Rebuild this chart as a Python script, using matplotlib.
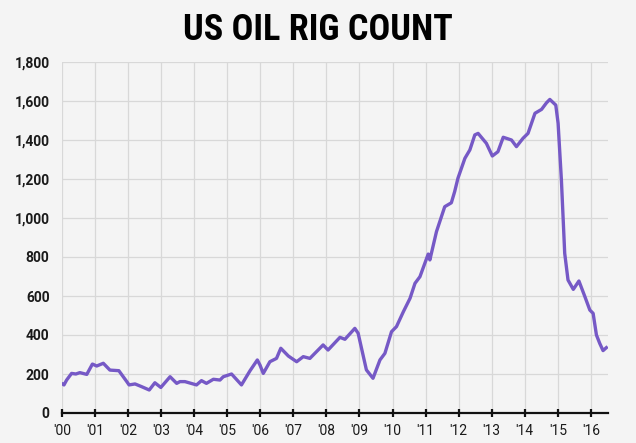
import matplotlib.pyplot as plt
from matplotlib.ticker import FuncFormatter

# US oil rig count (decimal year, rigs)
years = [2000.00, 2000.06, 2000.14, 2000.29, 2000.42, 2000.54, 2000.75, 2000.92,
         2001.05, 2001.25, 2001.45, 2001.72, 2001.96, 2002.03, 2002.21, 2002.41,
         2002.64, 2002.81, 2002.99, 2003.27, 2003.47, 2003.57, 2003.72, 2004.07,
         2004.22, 2004.37, 2004.58, 2004.78, 2004.88, 2005.13, 2005.43, 2005.69,
         2005.91, 2005.99, 2006.09, 2006.29, 2006.49, 2006.62, 2006.85, 2007.10,
         2007.30, 2007.50, 2007.90, 2008.05, 2008.41, 2008.56, 2008.86, 2008.96,
         2009.21, 2009.41, 2009.62, 2009.77, 2009.97, 2010.12, 2010.33, 2010.53,
         2010.68, 2010.83, 2011.08, 2011.13, 2011.33, 2011.58, 2011.78, 2011.88,
         2011.98, 2012.19, 2012.34, 2012.49, 2012.59, 2012.84, 2013.02, 2013.19,
         2013.35, 2013.60, 2013.75, 2013.95, 2014.10, 2014.31, 2014.51, 2014.66,
         2014.76, 2014.94, 2015.01, 2015.11, 2015.21, 2015.31, 2015.47, 2015.64,
         2015.82, 2015.97, 2016.07, 2016.17, 2016.27, 2016.37, 2016.47]
rigs = [150, 144, 169, 203, 200, 207, 198, 251,
        241, 255, 220, 217, 161, 144, 149, 135,
        118, 155, 131, 186, 152, 161, 161, 144,
        166, 152, 173, 169, 186, 200, 144, 217,
        272, 246, 203, 263, 280, 332, 292, 263,
        289, 280, 349, 323, 388, 378, 434, 409,
        221, 178, 272, 306, 417, 443, 520, 588,
        665, 699, 815, 785, 930, 1058, 1078, 1135,
        1204, 1306, 1349, 1426, 1434, 1383, 1318, 1340,
        1414, 1400, 1366, 1409, 1434, 1537, 1557, 1591,
        1608, 1579, 1486, 1195, 819, 682, 634, 677,
        597, 528, 511, 400, 357, 320, 335]

year_ticks = list(range(2000, 2017))
year_labels = ["'%02d" % (y - 2000) for y in year_ticks]
y_ticks = list(range(0, 1801, 200))

bg = '#f4f4f4'
purple = '#7659c6'

fig = plt.figure(figsize=(6.36, 4.43), dpi=100, facecolor=bg)
ax = fig.add_axes([62 / 636, 1 - 413 / 443, 546 / 636, 351 / 443], facecolor=bg)

ax.plot(years, rigs, color=purple, linewidth=2.4, solid_joinstyle='round', zorder=3)

ax.set_xlim(2000, 2016.52)
ax.set_ylim(0, 1800)
ax.set_xticks(year_ticks)
ax.set_xticklabels(year_labels)
ax.set_yticks(y_ticks)
ax.yaxis.set_major_formatter(FuncFormatter(lambda v, p: f"{int(v):,}"))

ax.grid(True, color='#d8d8d8', linewidth=0.9, zorder=0)
for side in ['top', 'right', 'left']:
    ax.spines[side].set_visible(False)
ax.spines['bottom'].set_color('#111111')
ax.spines['bottom'].set_linewidth(1.6)
ax.spines['bottom'].set_zorder(4)

ax.tick_params(axis='x', direction='inout', length=5.5, width=1.6, color='#111111',
               pad=5, labelsize=10, labelcolor='#1a1a1a')
ax.tick_params(axis='y', length=0, pad=9, labelsize=10, labelcolor='#1a1a1a')
for lbl in ax.get_xticklabels():
    lbl.set_fontfamily('Roboto')
for lbl in ax.get_yticklabels():
    lbl.set_fontfamily('Roboto')
    lbl.set_fontweight('bold')

fig.text(0.5, 1 - 30 / 443, 'US OIL RIG COUNT', ha='center', va='center',
         fontsize=26, fontweight='bold', color='black',
         family=['Roboto Condensed', 'Liberation Sans Narrow', 'Roboto'])

plt.savefig('out.png', dpi=100, facecolor=bg)
